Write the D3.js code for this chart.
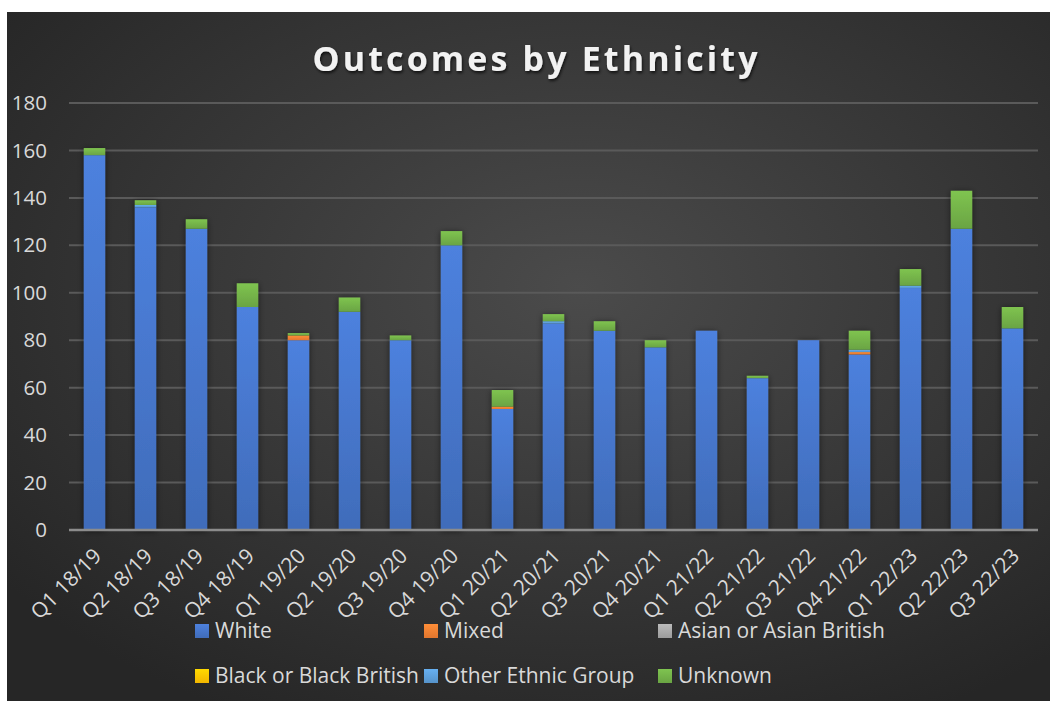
<!DOCTYPE html>
<html>
<head>
<meta charset="utf-8">
<script src="https://cdn.jsdelivr.net/npm/d3@7"></script>
<style>
  html, body { margin: 0; padding: 0; background: #ffffff; }
  svg { display: block; font-family: 'Open Sans', 'Noto Sans', sans-serif; }
</style>
</head>
<body>
<div id="chart"></div>
<script>
// --- DATOS ---
const quarters = ['Q1 18/19','Q2 18/19','Q3 18/19','Q4 18/19','Q1 19/20','Q2 19/20','Q3 19/20','Q4 19/20',
  'Q1 20/21','Q2 20/21','Q3 20/21','Q4 20/21','Q1 21/22','Q2 21/22','Q3 21/22','Q4 21/22',
  'Q1 22/23','Q2 22/23','Q3 22/23'];
const white   = [158,136,127,94,80,92,80,120,51,87,84,77,84,64,80,74,102,127,85];
const mixed   = [0,0,0,0,2,0,0,0,1,0,0,0,0,0,0,1,0,0,0];
const asian   = [0,0,0,0,0,0,0,0,0,0,0,0,0,0,0,0,0,0,0];
const black   = [0,0,0,0,0,0,0,0,0,0,0,0,0,0,0,0,0,0,0];
const other   = [0,1,0,0,0,0,0,0,0,1,0,0,0,0,0,1,1,0,0];
const unknown = [3,2,4,10,1,6,2,6,7,3,4,3,0,1,0,8,7,16,9];
const seriesNames = ['White','Mixed','Asian or Asian British','Black or Black British','Other Ethnic Group','Unknown'];
const yTicks = [0,20,40,60,80,100,120,140,160,180];

const seriesValues = [white, mixed, asian, black, other, unknown];
const colors = ['#4472C4','#ED7D31','#A5A5A5','#FFC000','#5B9BD5','#70AD47'];

const W = 1056, H = 701;
const margin = {left: 69, right: 18, top: 103, bottom: 171};

const svg = d3.select('#chart').append('svg')
  .attr('width', W).attr('height', H);

const defs = svg.append('defs');

// fondo radial oscuro
const bg = defs.append('radialGradient').attr('id','bg')
  .attr('cx','55%').attr('cy','40%').attr('r','70%');
bg.append('stop').attr('offset','0%').attr('stop-color','#4b4b4b');
bg.append('stop').attr('offset','100%').attr('stop-color','#262626');

// degradado de cada serie (más claro arriba)
colors.forEach((c, i) => {
  const g = defs.append('linearGradient').attr('id','grad'+i)
    .attr('x1',0).attr('y1',0).attr('x2',0).attr('y2',1);
  g.append('stop').attr('offset','0%').attr('stop-color', d3.color(c).brighter(0.35));
  g.append('stop').attr('offset','100%').attr('stop-color', d3.color(c).darker(0.15));
});

const shadow = defs.append('filter').attr('id','shadow')
  .attr('x','-30%').attr('y','-10%').attr('width','160%').attr('height','120%');
shadow.append('feDropShadow').attr('dx',0).attr('dy',1).attr('stdDeviation',3)
  .attr('flood-color','#000').attr('flood-opacity',0.55);

const tshadow = defs.append('filter').attr('id','tshadow');
tshadow.append('feDropShadow').attr('dx',1).attr('dy',2).attr('stdDeviation',1.5)
  .attr('flood-color','#000').attr('flood-opacity',0.7);

svg.append('rect')
  .attr('x',7).attr('y',12).attr('width',1043).attr('height',689)
  .attr('fill','url(#bg)');

// --- ESCALAS ---
const x = d3.scaleBand()
  .domain(quarters)
  .range([margin.left, W - margin.right])
  .paddingInner(0.58)
  .paddingOuter(0.29);

const y = d3.scaleLinear()
  .domain([0, 180])
  .range([H - margin.bottom, margin.top]);

// rejilla
svg.append('g')
  .selectAll('line')
  .data(yTicks.filter(d => d > 0))
  .enter().append('line')
  .attr('x1', margin.left).attr('x2', W - margin.right)
  .attr('y1', d => y(d)).attr('y2', d => y(d))
  .attr('stroke','#5a5a5a').attr('stroke-width',2);

// eje Y
const yAxis = svg.append('g')
  .attr('transform', `translate(${margin.left - 22},0)`)
  .call(d3.axisLeft(y).tickValues(yTicks).tickSize(0).tickPadding(0));
yAxis.select('.domain').remove();
yAxis.selectAll('text')
  .attr('fill','#d9d9d9').attr('font-size','20.5px')
  .attr('font-family',"'Open Sans', sans-serif");

// --- BARRAS APILADAS ---
const rows = quarters.map((q, i) => {
  const r = {q};
  seriesNames.forEach((s, k) => { r[s] = seriesValues[k][i]; });
  return r;
});
const stack = d3.stack().keys(seriesNames)(rows);

const barsG = svg.append('g').attr('filter','url(#shadow)');
barsG.selectAll('g')
  .data(stack)
  .enter().append('g')
  .attr('fill', (d, i) => `url(#grad${i})`)
  .selectAll('rect')
  .data(d => d.filter(p => p[1] - p[0] > 0))
  .enter().append('rect')
  .attr('x', d => x(d.data.q))
  .attr('y', d => y(d[1]))
  .attr('width', x.bandwidth())
  .attr('height', d => y(d[0]) - y(d[1]));

// eje X
svg.append('line')
  .attr('x1', margin.left).attr('x2', W - margin.right)
  .attr('y1', y(0)).attr('y2', y(0))
  .attr('stroke','#8c8c8c').attr('stroke-width',2.5);

svg.append('g')
  .selectAll('text')
  .data(quarters)
  .enter().append('text')
  .attr('transform', d => `translate(${x(d) + x.bandwidth() / 2 + 3},${y(0) + 22}) rotate(-45)`)
  .attr('text-anchor','end')
  .attr('dy','0.35em')
  .attr('fill','#d9d9d9')
  .attr('font-size','21px')
  .text(d => d);

// título
svg.append('text')
  .attr('x', 535).attr('y', 71)
  .attr('text-anchor','middle')
  .attr('fill','#f2f2f2')
  .attr('font-size','34px')
  .attr('font-weight','bold')
  .attr('textLength', 445)
  .attr('lengthAdjust','spacing')
  .attr('filter','url(#tshadow)')
  .text('Outcomes by Ethnicity');

// --- LEYENDA ---
const legendX = [195, 424, 658];
const legendY = [631, 676];
const legend = svg.append('g')
  .selectAll('g')
  .data(seriesNames)
  .enter().append('g')
  .attr('transform', (d, i) => `translate(${legendX[i % 3]},${legendY[Math.floor(i / 3)]})`);

legend.append('rect')
  .attr('x', 0).attr('y', -7)
  .attr('width', 14).attr('height', 14)
  .attr('fill', (d, i) => `url(#grad${i})`);

legend.append('text')
  .attr('x', 20).attr('dy','0.35em')
  .attr('fill','#d9d9d9')
  .attr('font-size','21px')
  .text(d => d);
</script>
</body>
</html>
